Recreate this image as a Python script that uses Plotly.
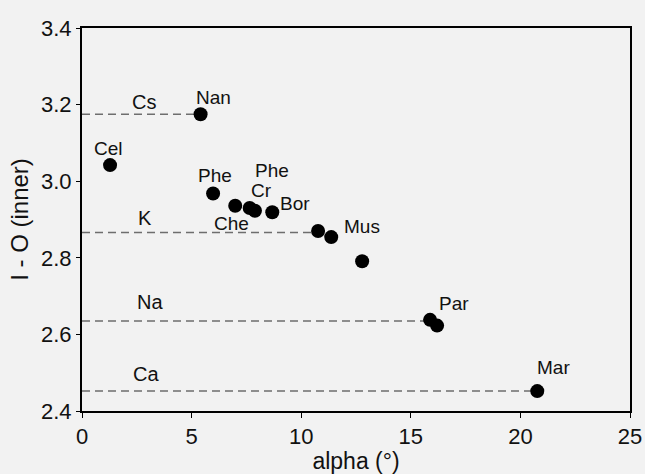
import plotly.graph_objects as go

# Data points (alpha in degrees, I-O inner distance)
alpha = [5.41, 1.28, 5.98, 6.99, 7.65, 7.89, 8.68, 10.77, 11.37, 12.78, 15.88, 16.20, 20.77]
io_inner = [3.175, 3.042, 2.968, 2.936, 2.930, 2.923, 2.919, 2.870, 2.854, 2.791, 2.638, 2.623, 2.452]

# Mineral labels
label_text = ["Nan", "Cel", "Phe", "Phe", "Cr", "Bor", "Che", "Mus", "Par", "Mar"]
label_x = [6.0, 1.22, 6.05, 8.65, 8.18, 9.72, 6.82, 12.78, 16.95, 21.52]
label_y = [3.218, 3.086, 3.016, 3.027, 2.976, 2.942, 2.889, 2.881, 2.681, 2.513]

# Interlayer cation reference levels
cation_names = ["Cs", "K", "Na", "Ca"]
cation_level = [3.175, 2.866, 2.635, 2.452]
cation_line_end = [5.41, 10.77, 15.88, 20.77]
cation_label_x = [2.82, 2.86, 3.1, 2.91]
cation_label_y = [3.207, 2.905, 2.684, 2.497]

FONT = "Liberation Sans, Arial, sans-serif"

fig = go.Figure()

for lvl, xe in zip(cation_level, cation_line_end):
    fig.add_trace(go.Scatter(
        x=[0, xe], y=[lvl, lvl], mode="lines",
        line=dict(color="#6e6e6e", width=1.5, dash="8px,5px"),
        hoverinfo="skip", showlegend=False))

fig.add_trace(go.Scatter(
    x=alpha, y=io_inner, mode="markers",
    marker=dict(color="black", size=14, line=dict(width=0)),
    showlegend=False))

for t, x, y in zip(label_text, label_x, label_y):
    fig.add_annotation(x=x, y=y, text=t, showarrow=False,
                       font=dict(family=FONT, size=19, color="#111"))
for t, x, y in zip(cation_names, cation_label_x, cation_label_y):
    fig.add_annotation(x=x, y=y, text=t, showarrow=False,
                       font=dict(family=FONT, size=20, color="#111"))

fig.update_layout(
    width=645, height=474,
    margin=dict(l=82, r=15, t=28, b=63),
    paper_bgcolor="#f2f2f2", plot_bgcolor="#f2f2f2",
    font=dict(family=FONT, color="#111"),
    showlegend=False,
)
fig.update_xaxes(
    range=[0, 25], tickvals=[0, 5, 10, 15, 20, 25],
    showgrid=False, zeroline=False, automargin=False,
    showline=True, linecolor="black", linewidth=2, mirror=True,
    ticks="outside", ticklen=5, tickwidth=1, tickcolor="black",
    tickfont=dict(family=FONT, size=22, color="#111"),
    title=dict(text="alpha (°)", font=dict(family=FONT, size=23, color="#111"), standoff=4),
)
fig.update_yaxes(
    range=[2.4, 3.4], tickvals=[2.4, 2.6, 2.8, 3.0, 3.2, 3.4],
    ticktext=["2.4", "2.6", "2.8", "3.0", "3.2", "3.4"],
    showgrid=False, zeroline=False, automargin=False,
    showline=True, linecolor="black", linewidth=2, mirror=True,
    ticks="outside", ticklen=4, tickwidth=1, tickcolor="black",
    tickfont=dict(family=FONT, size=22, color="#111"),
    title=dict(text="I - O (inner)", font=dict(family=FONT, size=24, color="#111"), standoff=6),
)

fig.write_html(
    "out.html",
    config={"displayModeBar": False},
    post_script="document.body.style.margin='0';document.body.style.overflow='hidden';",
)
